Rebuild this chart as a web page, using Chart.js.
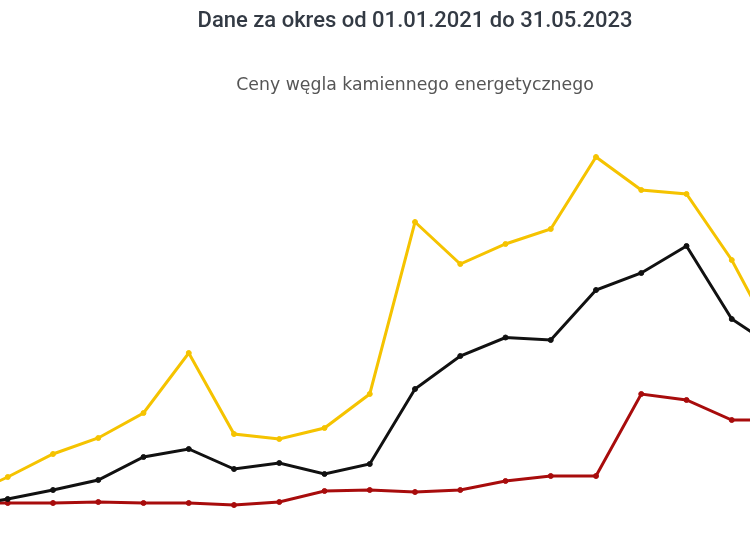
<!DOCTYPE html>
<html>
<head>
<meta charset="utf-8">
<script src="https://cdn.jsdelivr.net/npm/chart.js@4/dist/chart.umd.min.js"></script>
<style>
  html, body { margin: 0; padding: 0; background: #ffffff; overflow: hidden; width: 750px; height: 536px; }
  #wrap { position: absolute; left: -230px; top: 0; width: 1290px; height: 600px; }
</style>
</head>
<body>
<div id="wrap"><canvas id="c"></canvas></div>
<script>
// Months from 01.2021 to 05.2023 (only the middle part is visible in the picture)
const months = [
  '01.2021','02.2021','03.2021','04.2021','05.2021','06.2021','07.2021','08.2021','09.2021','10.2021','11.2021','12.2021',
  '01.2022','02.2022','03.2022','04.2022','05.2022','06.2022','07.2022','08.2022','09.2022','10.2022','11.2022','12.2022',
  '01.2023','02.2023','03.2023','04.2023','05.2023'
];
// Values (PLN/GJ, estimated); null = outside the visible crop
const seriesYellow = [null, null, null, null, 14.4, 18.6, 23.2, 26.4, 31.4, 43.4, 27.2, 26.2, 28.4, 35.2, 69.6, 61.2, 65.2, 68.2, 82.6, 76.0, 75.2, 62.0, 45.0, null, null, null, null, null, null];
const seriesBlack  = [null, null, null, null, 12.6, 14.2, 16.0, 18.0, 22.6, 24.2, 20.2, 21.4, 19.2, 21.2, 36.2, 42.8, 46.5, 46.0, 56.0, 59.4, 64.8, 50.2, 44.2, null, null, null, null, null, null];
const seriesRed    = [null, null, null, null, 13.4, 13.4, 13.4, 13.6, 13.4, 13.4, 13.0, 13.6, 15.8, 16.0, 15.6, 16.0, 17.8, 18.8, 18.8, 35.2, 34.0, 30.0, 30.0, null, null, null, null, null, null];

const titleText = 'Dane za okres od 01.01.2021 do 31.05.2023';
const subtitleText = 'Ceny węgla kamiennego energetycznego';

function ds(label, data, color) {
  return {
    label, data,
    borderColor: color, backgroundColor: color,
    borderWidth: 3, pointRadius: 2.5, pointBorderWidth: 1,
    pointBackgroundColor: color, pointBorderColor: color,
    tension: 0, fill: false
  };
}

new Chart(document.getElementById('c'), {
  type: 'line',
  data: {
    labels: months,
    datasets: [
      ds('Seria 1', seriesYellow, '#f5c300'),
      ds('Seria 2', seriesBlack, '#111111'),
      ds('Seria 3', seriesRed, '#a80c0c')
    ]
  },
  options: {
    responsive: true,
    maintainAspectRatio: false,
    animation: false,
    layout: { padding: { left: 11.5, right: 11.5, top: 0, bottom: 30 } },
    scales: {
      x: { display: false, offset: false },
      y: { display: false, min: 0, max: 90 }
    },
    plugins: {
      legend: { display: false },
      tooltip: { enabled: false },
      title: {
        display: true, text: titleText, color: '#333a44',
        font: { family: 'Roboto', size: 22, weight: '500' },
        padding: { top: 8.3, bottom: 0 }
      },
      subtitle: {
        display: true, text: subtitleText, color: '#555555',
        font: { family: 'DejaVu Sans', size: 17.3, weight: 'normal' },
        padding: { top: 40.9, bottom: 23.64 }
      }
    }
  }
});
</script>
</body>
</html>
